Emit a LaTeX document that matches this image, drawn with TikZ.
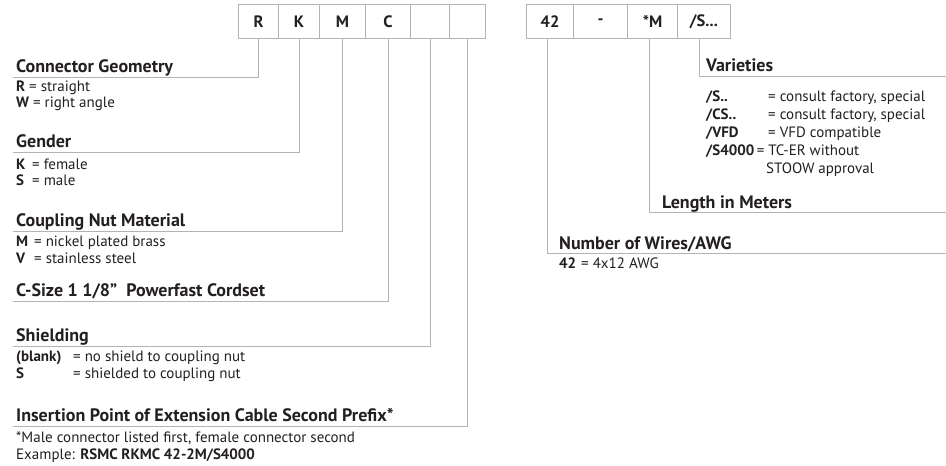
\documentclass[tikz,border=0pt]{standalone}
\usepackage{fontspec}
\setmainfont{PT Sans}
\definecolor{ln}{HTML}{B3B3B3}
\definecolor{tx}{HTML}{231F20}
\begin{document}
\begin{tikzpicture}[x=1pt,y=-1pt,
  box/.style={draw=ln, line width=1pt, minimum height=34pt, inner sep=0pt, font=\fontsize{16.5}{18}\selectfont\bfseries, text=tx, anchor=north west},
  conn/.style={draw=ln, line width=1pt},
  head/.style={anchor=base west, inner sep=0pt, font=\fontsize{18}{20}\selectfont\bfseries, text=tx},
  txt/.style={anchor=base west, inner sep=0pt, font=\fontsize{15}{17}\selectfont, text=tx},
]
\useasboundingbox (0,0) rectangle (946,466);
% code boxes
\node[box, minimum width=40pt] (bR) at (238,4) {R};
\node[box, minimum width=41pt] (bK) at (278,4) {K};
\node[box, minimum width=46pt] (bM) at (319,4) {M};
\node[box, minimum width=45pt] (bC) at (365,4) {C};
\node[box, minimum width=39pt] (bB1) at (410,4) {};
\node[box, minimum width=36pt] (bB2) at (449,4) {};
\node[box, minimum width=47pt] (b42) at (526,4) {42};
\node[box, minimum width=54pt] (bD) at (573,4) {-};
\node[box, minimum width=50pt] (bSM) at (627,4) {*M};
\node[box, minimum width=53pt] (bS) at (677,4) {/S...};
% line ends
\coordinate (eGeo) at (13,77);
\coordinate (eGen) at (13,152);
\coordinate (eNut) at (13,231);
\coordinate (eSize) at (13,301);
\coordinate (eShd) at (13,346);
\coordinate (eIns) at (13,426);
\coordinate (eVar) at (946,76);
\coordinate (eLen) at (946,212);
\coordinate (eWir) at (946,253);
\draw[conn] (bR.south) |- (eGeo);
\draw[conn] (bK.south) |- (eGen);
\draw[conn] (bM.south) |- (eNut);
\draw[conn] (bC.south) |- (eSize);
\draw[conn] (bB1.south) |- (eShd);
\draw[conn] (bB2.south) |- (eIns);
\draw[conn] ([xshift=-4.5pt]bS.south) |- (eVar);
\draw[conn] ([xshift=-3pt]bSM.south) |- (eLen);
\draw[conn] ([xshift=-2.5pt]b42.south) |- (eWir);
% left texts
\node[head] (hGeo) at (16,72) {Connector Geometry};
\node[txt] (tR) at (16,91) {\textbf{R} = straight};
\node[txt] (tW) at (16,107) {\textbf{W} = right angle};
\node[head] (hGen) at (16,147) {Gender};
\node[txt] (tK) at (16,169) {\makebox[16pt][l]{\textbf{K}}= female};
\node[txt] (tS) at (16,185) {\makebox[16pt][l]{\textbf{S}}= male};
\node[head] (hNut) at (16,226) {Coupling Nut Material};
\node[txt] (tM) at (16,246) {\makebox[18pt][l]{\textbf{M}}= nickel plated brass};
\node[txt] (tV) at (16,263) {\makebox[18pt][l]{\textbf{V}}= stainless steel};
\node[head] (hSize) at (16,296) {C-Size 1 1/8”\ \ Powerfast Cordset};
\node[head] (hShd) at (16,341) {Shielding};
\node[txt] (tBl) at (16,361) {\makebox[57pt][l]{\textbf{(blank)}}= no shield to coupling nut};
\node[txt] (tSh) at (16,378) {\makebox[57pt][l]{\textbf{S}}= shielded to coupling nut};
\node[head] (hIns) at (16,421) {Insertion Point of Extension Cable Second Prefix*};
\node[txt] (tMale) at (16,442) {*Male connector listed first, female connector second};
\node[txt] (tEx) at (16,459) {Example: \textbf{RSMC RKMC 42-2M/S4000}};
% right texts
\node[head] (hVar) at (706,71) {Varieties};
\node[txt] (v1) at (706,101) {\makebox[62pt][l]{\textbf{/S..}}= consult factory, special};
\node[txt] (v2) at (706,119) {\makebox[62pt][l]{\textbf{/CS..}}= consult factory, special};
\node[txt] (v3) at (706,137) {\makebox[62pt][l]{\textbf{/VFD}}= VFD compatible};
\node[txt] (v4) at (706,155) {\textbf{/S4000}\,= TC-ER without};
\node[txt] (v5) at (766,173) {STOOW approval};
\node[head] (hLen) at (662,208) {Length in Meters};
\node[head] (hWir) at (559,249) {Number of Wires/AWG};
\node[txt] (t42) at (559,268) {\makebox[22pt][l]{\textbf{42}}= 4x12 AWG};
\end{tikzpicture}
\end{document}
